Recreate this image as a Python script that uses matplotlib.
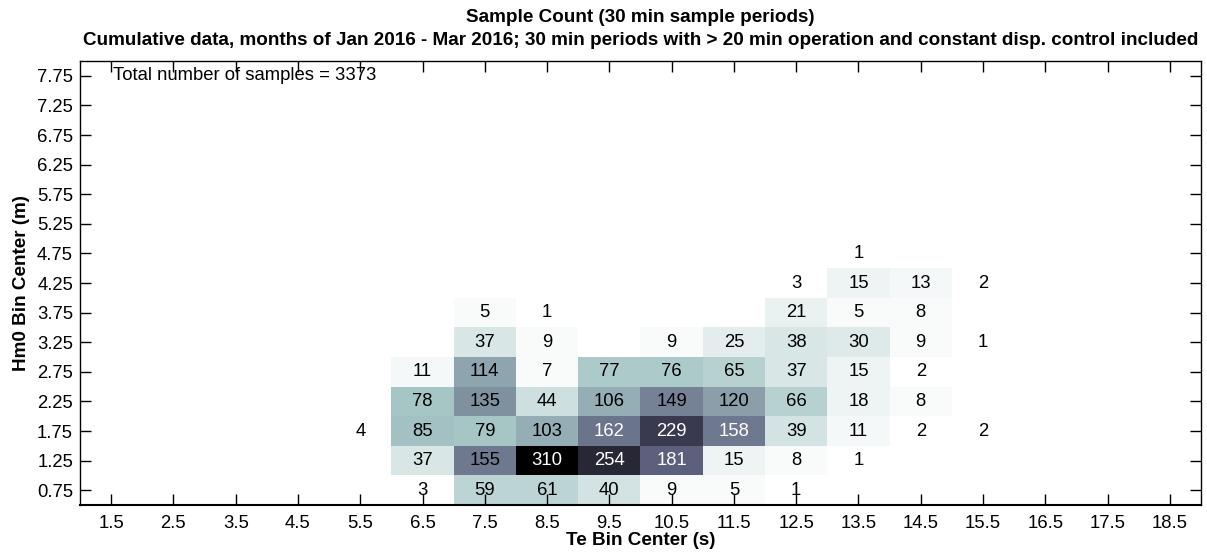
import numpy as np
import matplotlib
matplotlib.use('Agg')
import matplotlib.pyplot as plt

plt.rcParams['font.family'] = ['Liberation Sans', 'DejaVu Sans']

# bin centers shown on the axes
te_ticks = np.arange(1.5, 19.0, 1.0)
hm0_ticks = np.arange(0.75, 8.0, 0.5)

# occupied part of the table: Te 5.5 .. 15.5, Hm0 0.75 .. 4.75
te_centers = [5.5, 6.5, 7.5, 8.5, 9.5, 10.5, 11.5, 12.5, 13.5, 14.5, 15.5]
hm0_centers = [0.75, 1.25, 1.75, 2.25, 2.75, 3.25, 3.75, 4.25, 4.75]
counts = [
    [0, 3, 59, 61, 40, 9, 5, 1, 0, 0, 0],             # 0.75
    [0, 37, 155, 310, 254, 181, 15, 8, 1, 0, 0],      # 1.25
    [4, 85, 79, 103, 162, 229, 158, 39, 11, 2, 2],    # 1.75
    [0, 78, 135, 44, 106, 149, 120, 66, 18, 8, 0],    # 2.25
    [0, 11, 114, 7, 77, 76, 65, 37, 15, 2, 0],        # 2.75
    [0, 0, 37, 9, 0, 9, 25, 38, 30, 9, 1],            # 3.25
    [0, 0, 5, 1, 0, 0, 0, 21, 5, 8, 0],               # 3.75
    [0, 0, 0, 0, 0, 0, 0, 3, 15, 13, 2],              # 4.25
    [0, 0, 0, 0, 0, 0, 0, 0, 1, 0, 0],                # 4.75
]

title1 = 'Sample Count (30 min sample periods)'
title2 = ('Cumulative data, months of Jan 2016 - Mar 2016; 30 min periods with > 20 min '
          'operation and constant disp. control included')

# full grid
grid = np.zeros((len(hm0_ticks), len(te_ticks)))
for i, h in enumerate(hm0_centers):
    for j, t in enumerate(te_centers):
        r = int(np.argmin(np.abs(hm0_ticks - h)))
        c = int(np.argmin(np.abs(te_ticks - t)))
        grid[r, c] = counts[i][j]

total = int(grid.sum())
vmax = grid.max()
masked = np.ma.masked_equal(grid, 0)

x_edges = np.append(te_ticks - 0.5, te_ticks[-1] + 0.5)
y_edges = np.append(hm0_ticks - 0.25, hm0_ticks[-1] + 0.25)

FS = 13.3
FS_B = 13.6

fig = plt.figure(figsize=(12.07, 5.55), dpi=100)
ax = fig.add_axes([0.0663, 0.0901, 0.9287, 0.7999])

# 64 level colormap like the original, so the smallest counts come out white
cmap = plt.get_cmap('bone_r', 64)
ax.pcolormesh(x_edges, y_edges, masked, cmap=cmap, vmin=0, vmax=vmax)

for r in range(grid.shape[0]):
    for c in range(grid.shape[1]):
        v = grid[r, c]
        if v > 0:
            col = 'white' if v > 0.5 * vmax else 'black'
            ax.text(te_ticks[c], hm0_ticks[r], f'{int(v)}', ha='center', va='center',
                    fontsize=FS, color=col)

ax.text(1.53, 7.75, f'Total number of samples = {total}', ha='left', va='center', fontsize=FS)

ax.set_xlim(1, 19)
ax.set_ylim(0.5, 8)
ax.set_xticks(te_ticks)
ax.set_xticklabels([f'{t:g}' for t in te_ticks])
ax.set_yticks(hm0_ticks)
ax.set_yticklabels([f'{h:.2f}' for h in hm0_ticks])
ax.tick_params(direction='in', length=8, width=1, top=True, right=True, labelsize=FS, pad=5)
ax.tick_params(axis='x', pad=7)
for s in ax.spines.values():
    s.set_linewidth(1.0)
ax.spines['bottom'].set_linewidth(1.5)

ax.set_xlabel('Te Bin Center (s)', fontsize=FS_B, fontweight='bold', labelpad=0)
ax.set_ylabel('Hm0 Bin Center (m)', fontsize=FS_B, fontweight='bold', labelpad=5)

# two line title centred over the axes
ax.text(0.5, 1 + 44 / 444, title1, transform=ax.transAxes, ha='center', va='center',
        fontsize=FS_B, fontweight='bold')
ax.text(0.5, 1 + 21 / 444, title2, transform=ax.transAxes, ha='center', va='center',
        fontsize=FS_B, fontweight='bold')

fig.savefig('out.png', dpi=100)
